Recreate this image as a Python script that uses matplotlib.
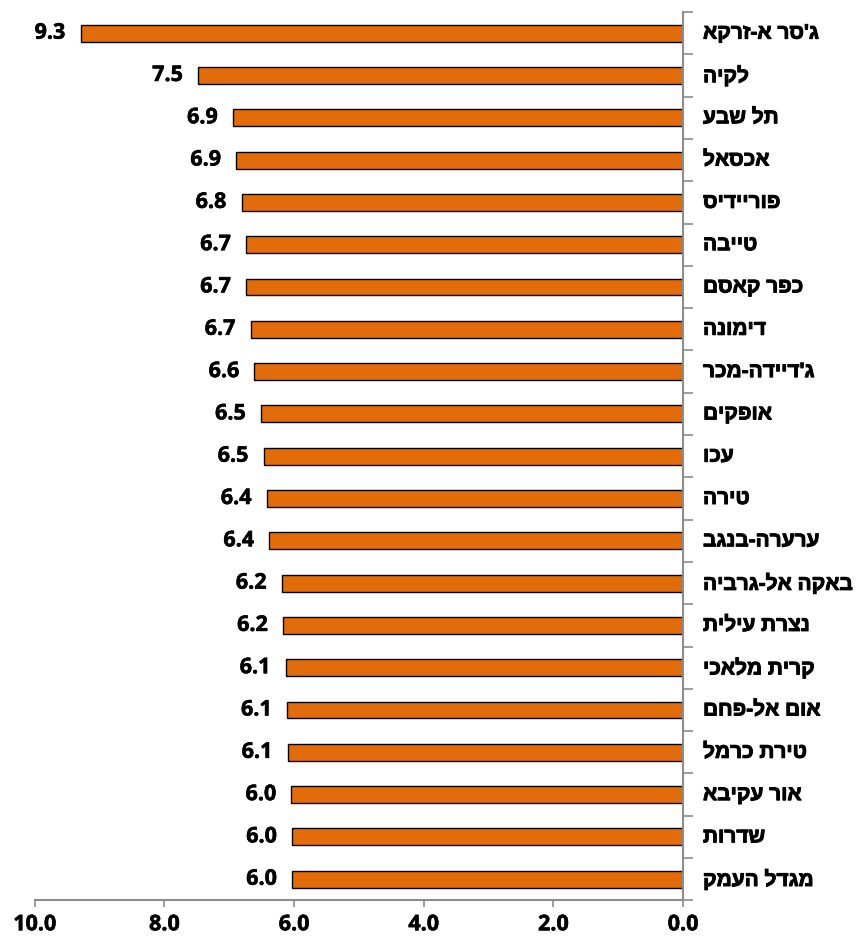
import matplotlib
matplotlib.use("Agg")
import matplotlib.pyplot as plt
import matplotlib.patheffects as pe
from matplotlib.transforms import ScaledTranslation

# ישובים ושיעורים, מלמעלה למטה
names = [
    "ג'סר א-זרקא", "לקיה", "תל שבע", "אכסאל", "פוריידיס", "טייבה",
    "כפר קאסם", "דימונה", "ג'דיידה-מכר", "אופקים", "עכו", "טירה",
    "ערערה-בנגב", "באקה אל-גרביה", "נצרת עילית", "קרית מלאכי",
    "אום אל-פחם", "טירת כרמל", "אור עקיבא", "שדרות", "מגדל העמק",
]
values = [
    9.29, 7.48, 6.94, 6.89, 6.81, 6.74,
    6.74, 6.67, 6.61, 6.51, 6.47, 6.42,
    6.38, 6.19, 6.17, 6.13,
    6.11, 6.10, 6.04, 6.03, 6.03,
]
x_ticks = [10.0, 8.0, 6.0, 4.0, 2.0, 0.0]

BAR_COLOR = "#E36C0A"
AXIS_COLOR = "#8C8C8C"
HEB_FONT = ["Liberation Sans", "DejaVu Sans"]
NUM_FONT = ["Open Sans", "DejaVu Sans"]
bold_fx = [pe.withStroke(linewidth=0.7, foreground="black")]
num_fx = [pe.withStroke(linewidth=0.4, foreground="black")]

fig = plt.figure(figsize=(8.57, 9.37), dpi=100)
ax = fig.add_axes([0.0405, 0.0380, 0.7565, 0.9481])

pos = list(range(len(names)))
ax.barh(pos, values, height=0.4, color=BAR_COLOR, edgecolor="black", linewidth=1.0)

for p, v in zip(pos, values):
    ax.annotate(f"{v:.1f}", xy=(v, p), xytext=(-11, 0), textcoords="offset points",
                ha="right", va="center", fontsize=15.5, fontweight="bold",
                family=NUM_FONT, color="black", path_effects=num_fx)

ax.set_xlim(10, 0)
ax.set_ylim(len(names) - 0.5, -0.5)

# ציר y מימין, שנתות בגבולות הקטגוריות
ax.yaxis.tick_right()
ax.set_yticks([p - 0.5 for p in pos] + [len(names) - 0.5])
ax.set_yticklabels([])
ax.tick_params(axis="y", length=7, width=1.2, color=AXIS_COLOR, direction="out")
label_tr = ax.get_yaxis_transform() + ScaledTranslation(0.20, 0, fig.dpi_scale_trans)
for p, n in zip(pos, names):
    # הפיכת סדר התווים לתצוגה מימין לשמאל
    ax.text(1.0, p, n[::-1], transform=label_tr,
            ha="left", va="center", fontsize=15, fontweight="bold",
            family=HEB_FONT, color="black", path_effects=bold_fx)

ax.set_xticks(x_ticks)
ax.set_xticklabels([f"{t:.1f}" for t in x_ticks], fontsize=15.5, fontweight="bold",
                   family=NUM_FONT, path_effects=num_fx)
ax.tick_params(axis="x", length=5, width=1.2, color=AXIS_COLOR, direction="out", pad=5)

for side in ("left", "top"):
    ax.spines[side].set_visible(False)
for side in ("right", "bottom"):
    ax.spines[side].set_color(AXIS_COLOR)
    ax.spines[side].set_linewidth(1.5)

fig.savefig("out.png", dpi=100)
